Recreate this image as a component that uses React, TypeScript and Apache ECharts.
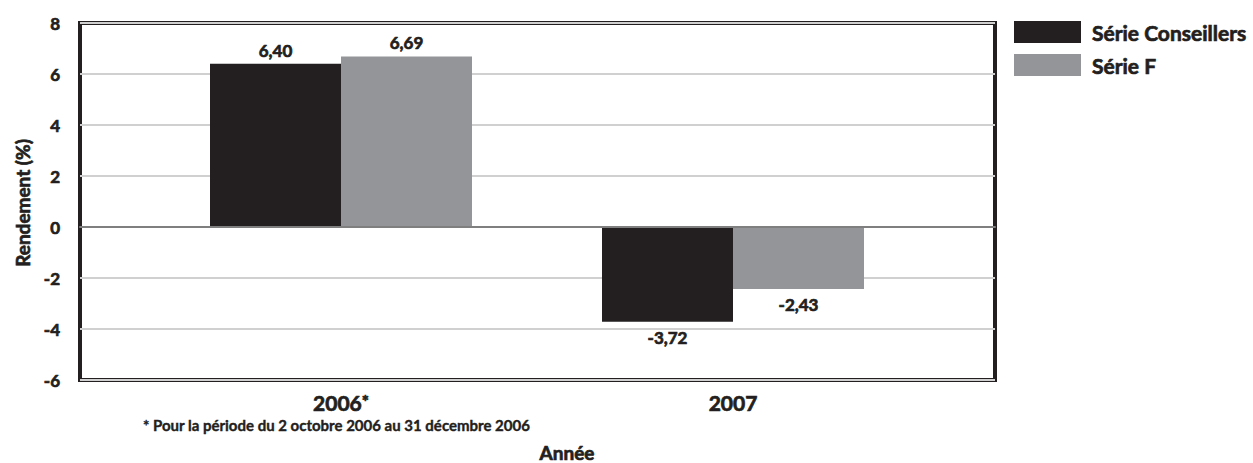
import React, { useEffect, useRef } from "react";
import * as echarts from "echarts";

const categories = ["2006", "2007"];
const seriesNames = ["Série Conseillers", "Série F"];
const conseillers = [6.4, -3.72];
const serieF = [6.69, -2.43];
const yTicks = { min: -6, max: 8, interval: 2 };
const yTitle = "Rendement (%)";
const xTitle = "Année";
const footnote = "* Pour la période du 2 octobre 2006 au 31 décembre 2006";

const DARK = "#231f20";
const GRAY = "#939598";
const FONT = "Lato";
const W = "bold";
const TB = { textBorderColor: DARK, textBorderWidth: 0.7 };

function fmt(v: number) {
  return v.toFixed(2).replace(".", ",");
}

function toData(arr: number[]) {
  return arr.map((v) => ({
    value: v,
    label: { position: v >= 0 ? "top" : "bottom", distance: v >= 0 ? 5 : 7 },
  }));
}

export default function App() {
  const ref = useRef<HTMLDivElement>(null);
  useEffect(() => {
    const chart = echarts.init(ref.current!, null, { renderer: "svg" });
    const labelStyle = {
      show: true,
      fontFamily: FONT,
      fontWeight: W,
      fontSize: 17,
      color: DARK,
      ...TB,
      formatter: (p: any) => fmt(p.value),
    };
    const gText = (text: string, x: number, y: number, size: number, align: string, rot = 0, lw = 0.7) => ({
      type: "text",
      x,
      y,
      rotation: rot,
      style: {
        text,
        fontFamily: FONT,
        fontWeight: W,
        fontSize: size,
        fill: DARK,
        stroke: DARK,
        lineWidth: lw,
        align,
        verticalAlign: "middle",
      },
    });
    chart.setOption({
      animation: false,
      backgroundColor: "#ffffff",
      grid: [
        {
          left: 80,
          right: 258,
          top: 23,
          bottom: 83,
          show: true,
          borderWidth: 4,
          borderColor: DARK,
          backgroundColor: "transparent",
        },
        { left: 145, width: 784, top: 23, bottom: 83 },
      ],
      xAxis: [
        {
          gridIndex: 0,
          type: "value",
          min: 0,
          max: 1,
          z: 5,
          axisLine: { show: true, onZero: true, lineStyle: { color: "#7f7f7f", width: 2 } },
          axisTick: { show: false },
          axisLabel: { show: false },
          splitLine: { show: false },
        },
        {
          gridIndex: 1,
          type: "category",
          data: categories,
          axisLine: { show: false, onZero: false },
          axisTick: { show: false },
          axisLabel: {
            margin: 13,
            fontFamily: FONT,
            fontWeight: W,
            fontSize: 21,
            lineHeight: 18,
            color: DARK,
            formatter: (v: string, i: number) => (i === 0 ? `{a|${v}}{s|*}` : `{a|${v}}`),
            rich: {
              a: { fontFamily: FONT, fontWeight: W, fontSize: 21, lineHeight: 18, color: DARK, ...TB },
              s: { fontFamily: FONT, fontWeight: W, fontSize: 17, lineHeight: 18, color: DARK, verticalAlign: "top", padding: [0, 0, 10, 0], ...TB },
            },
          },
        },
      ],
      yAxis: [
        {
          gridIndex: 0,
          type: "value",
          min: yTicks.min,
          max: yTicks.max,
          interval: yTicks.interval,
          axisLine: { show: false },
          axisTick: { show: false },
          axisLabel: {
            margin: 20,
            fontFamily: FONT,
            fontWeight: W,
            fontSize: 17,
            color: DARK,
            ...TB,
          },
          splitLine: { show: true, lineStyle: { color: "#d0d0d0", width: 2 } },
        },
        {
          gridIndex: 1,
          type: "value",
          min: yTicks.min,
          max: yTicks.max,
          interval: yTicks.interval,
          show: false,
          splitLine: { show: false },
        },
      ],
      legend: {
        orient: "vertical",
        left: 1014,
        top: 21,
        padding: 0,
        itemWidth: 67,
        itemHeight: 22,
        itemGap: 11,
        icon: "rect",
        textStyle: {
          fontFamily: FONT,
          fontWeight: W,
          fontSize: 21,
          color: DARK,
          ...TB,
          padding: [0, 0, 0, 6],
        },
        data: seriesNames,
      },
      series: [
        {
          name: seriesNames[0],
          type: "bar",
          xAxisIndex: 1,
          yAxisIndex: 1,
          barWidth: 131,
          barGap: "0%",
          itemStyle: { color: DARK },
          label: labelStyle,
          data: toData(conseillers),
        },
        {
          name: seriesNames[1],
          type: "bar",
          xAxisIndex: 1,
          yAxisIndex: 1,
          barWidth: 131,
          barGap: "0%",
          itemStyle: { color: GRAY },
          label: labelStyle,
          data: toData(serieF),
        },
      ],
      graphic: [
        gText(yTitle, 22, 203, 19, "center", Math.PI / 2),
        gText(footnote, 143, 425, 15, "left", 0, 0.4),
        gText(xTitle, 567, 452, 19, "center"),
      ],
    });
    return () => chart.dispose();
  }, []);
  return (
    <div
      ref={ref}
      style={{ position: "absolute", left: 0, top: 0, width: 1253, height: 463 }}
    />
  );
}
